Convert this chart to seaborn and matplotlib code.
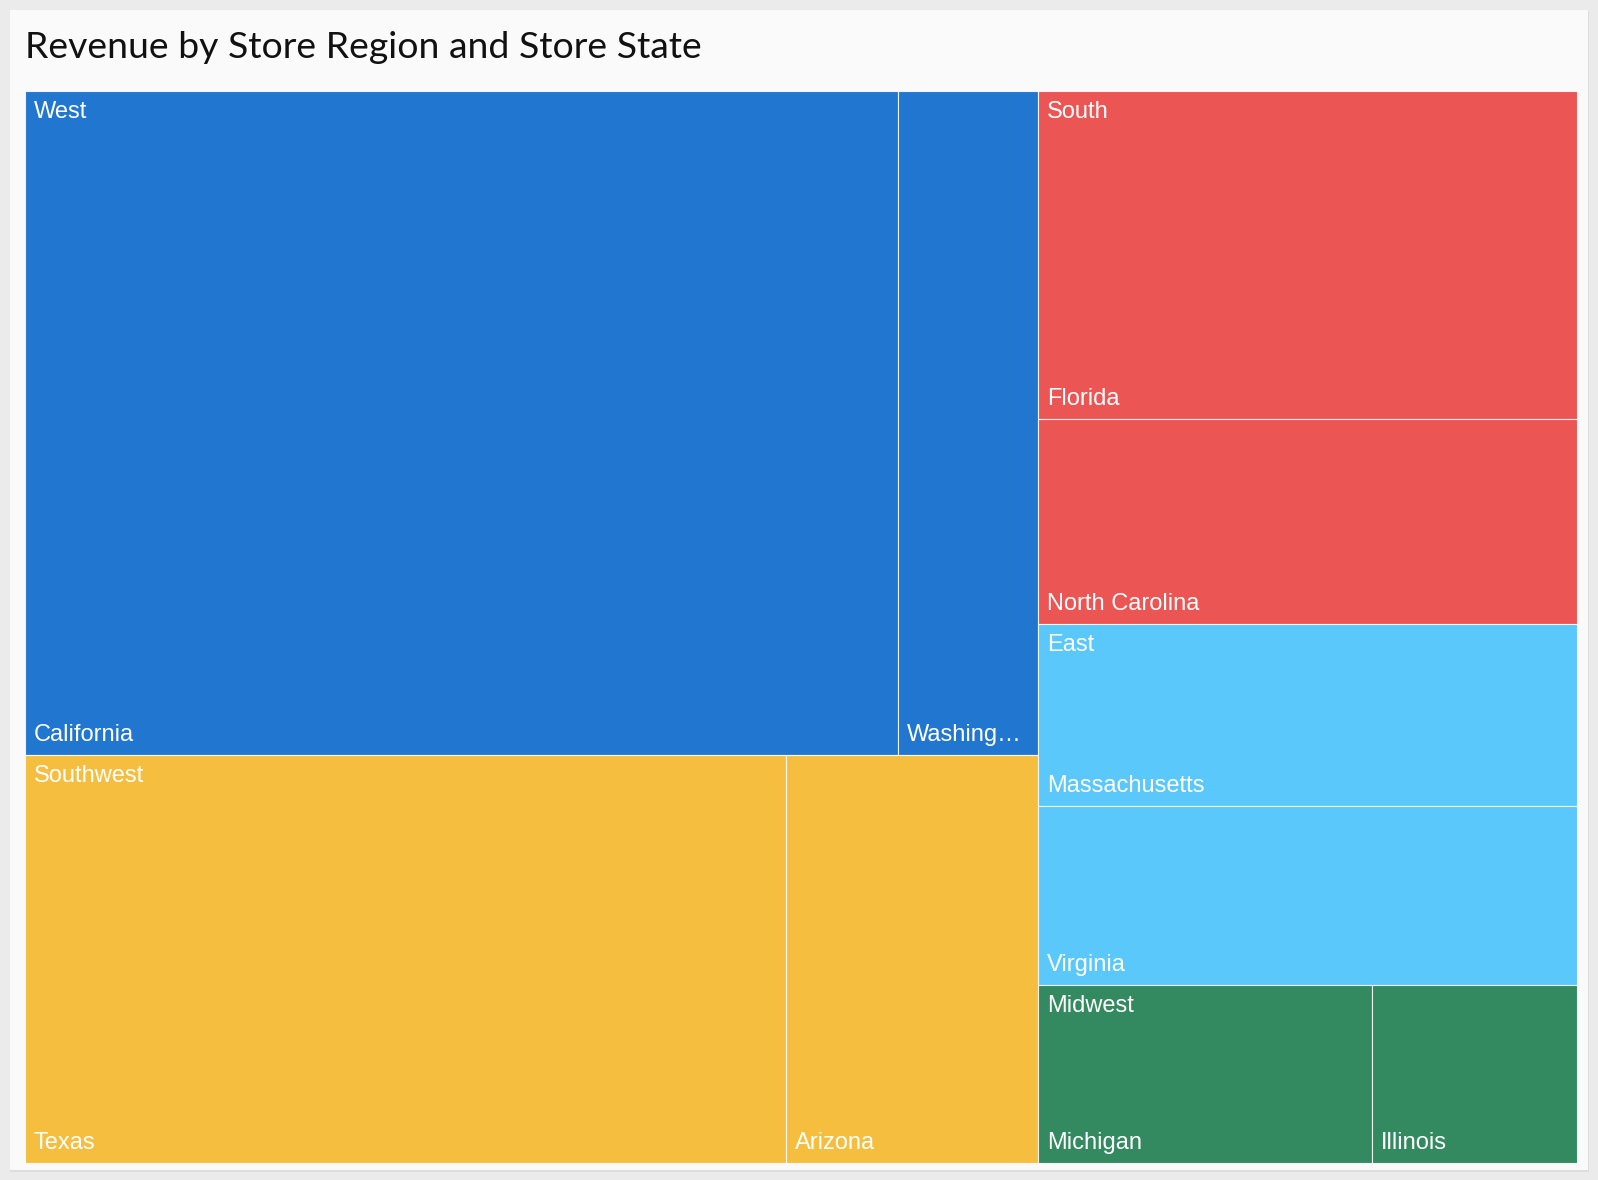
import matplotlib
matplotlib.use("Agg")
import matplotlib.pyplot as plt
from matplotlib.patches import Rectangle
import seaborn as sns

regions = ["West", "West", "Southwest", "Southwest", "South", "South",
           "East", "East", "Midwest", "Midwest"]
states = ["California", "Washington", "Texas", "Arizona", "Florida",
          "North Carolina", "Massachusetts", "Virginia", "Michigan", "Illinois"]
revenue = [558.7, 89.3, 298.8, 98.8, 170.3, 106.3, 94.7, 92.5, 57.4, 35.2]

region_colors = {
    "West": "#2176d0",
    "Southwest": "#f5be3e",
    "South": "#eb5553",
    "East": "#5ac8fb",
    "Midwest": "#348a60",
}

TITLE = "Revenue by Store Region and Store State"
PHI = (1 + 5 ** 0.5) / 2


def squarify(items, x0, y0, x1, y1, ratio=PHI):
    """d3-style squarified layout; items = [(key, value)] sorted desc."""
    out = []
    value = sum(v for _, v in items)
    i0 = 0
    n = len(items)
    while i0 < n:
        dx, dy = x1 - x0, y1 - y0
        i1 = i0
        s = items[i1][1]
        i1 += 1
        mn = mx = s
        alpha = max(dy / dx, dx / dy) / (value * ratio)
        beta = s * s * alpha
        min_ratio = max(mx / beta, beta / mn)
        while i1 < n:
            v = items[i1][1]
            s2 = s + v
            mn2, mx2 = min(mn, v), max(mx, v)
            beta = s2 * s2 * alpha
            new_ratio = max(mx2 / beta, beta / mn2)
            if new_ratio > min_ratio:
                break
            s, mn, mx, min_ratio = s2, mn2, mx2, new_ratio
            i1 += 1
        row = items[i0:i1]
        if dx < dy:
            # dice: row across the full width at the top
            ny = y0 + dy * s / value
            cx = x0
            for k, v in row:
                w = dx * v / s
                out.append((k, cx, y0, cx + w, ny))
                cx += w
            y0 = ny
        else:
            # slice: column along the full height at the left
            nx = x0 + dx * s / value
            cy = y0
            for k, v in row:
                h = dy * v / s
                out.append((k, x0, cy, nx, cy + h))
                cy += h
            x0 = nx
        value -= s
        i0 = i1
    return out


def fit_text(ax, renderer, txt, max_w):
    t = txt.get_text()
    while txt.get_window_extent(renderer).width > max_w and len(t) > 1:
        t = t[:-1]
        txt.set_text(t.rstrip() + "\u2026")


sns.set_theme(style="white")
plt.rcParams["font.family"] = ["Liberation Sans", "DejaVu Sans"]

W, H = 1598, 1180
fig = plt.figure(figsize=(W / 100, H / 100), dpi=100)
fig.patch.set_facecolor("#ebebeb")
ax = fig.add_axes([0, 0, 1, 1])
ax.set_xlim(0, W)
ax.set_ylim(H, 0)
ax.axis("off")

# card
ax.add_patch(Rectangle((10, 11), 1579, 1161, facecolor="#dddddd", edgecolor="none"))
ax.add_patch(Rectangle((10, 10), 1578, 1160, facecolor="#fafafa", edgecolor="none"))

ax.text(25, 58, TITLE, fontsize=26.9, family=["Lato", "DejaVu Sans"],
        color="#111111", va="baseline", ha="left")

# layout
totals = {}
for r, v in zip(regions, revenue):
    totals[r] = totals.get(r, 0) + v
top = sorted(totals.items(), key=lambda kv: -kv[1])
PX0, PY0, PX1, PY1 = 24.5, 91, 1577, 1163
region_boxes = squarify(top, PX0, PY0, PX1, PY1)

renderer = fig.canvas.get_renderer()
pal = sns.color_palette([region_colors[r] for r, _ in top])
edge = (1, 1, 1, 0.85)
fs = 17

for (reg, x0, y0, x1, y1), col in zip(region_boxes, pal):
    kids = sorted([(s, v) for r, s, v in zip(regions, states, revenue) if r == reg],
                  key=lambda kv: -kv[1])
    cells = squarify(kids, x0, y0, x1, y1)
    for st, cx0, cy0, cx1, cy1 in cells:
        ax.add_patch(Rectangle((cx0, cy0), cx1 - cx0, cy1 - cy0, facecolor=col,
                               edgecolor=edge, linewidth=0.8))
        t = ax.text(cx0 + 9, cy1 - 14, st, color="white", fontsize=fs,
                    va="baseline", ha="left")
        fit_text(ax, renderer, t, cx1 - cx0 - 21)
    t = ax.text(x0 + 9, y0 + 27, reg, color="white", fontsize=fs,
                va="baseline", ha="left")
    fit_text(ax, renderer, t, x1 - x0 - 21)

fig.savefig("out.png", dpi=100, facecolor=fig.get_facecolor())
